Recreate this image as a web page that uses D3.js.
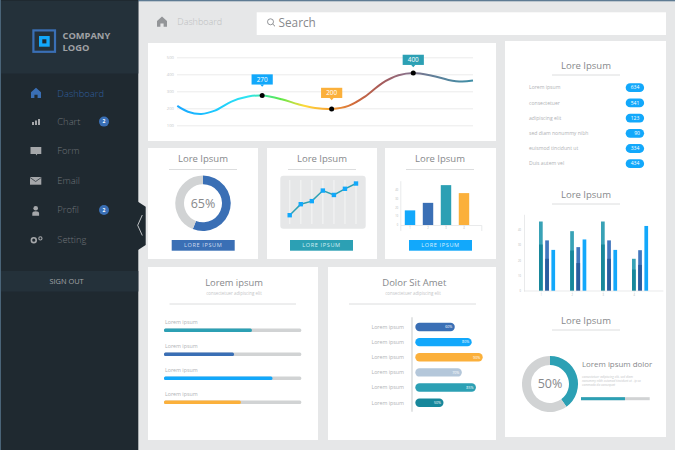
<!DOCTYPE html>
<html><head><meta charset="utf-8">
<script src="https://cdn.jsdelivr.net/npm/d3@7"></script>
<style>
html,body{margin:0;padding:0;background:#e6e7e8;overflow:hidden}
svg{display:block}
text{font-family:"Open Sans",sans-serif}
</style></head><body>
<svg id="c" width="675" height="450"></svg>
<script>
// ---------- data ----------
const menuItems = ["Dashboard","Chart","Form","Email","Profil","Setting"];
const menuBadges = [null,2,null,null,2,null];
const lineXs = [0,3.6,8.1,12.7,18.3,24,28.7,35.3,40.9,46.6,52.2,57.9,63.5,69.2,74.8,79.8,86.1,91.7,96.2,100];
const lineYs = [214,180,167,186,239,269,275,253,224,202,196,214,269,347,394,408,392,367,357,363];
const lineMarkers = [6,10,15];
const lineMarkerLabels = ["270","200","400"];
const lineTicks = [100,200,300,400,500];
const donutALabel = "65%";
const donutAShare = 0.56;
const miniLineValues = [20,45,52,76,66,80,92];
const miniBarValues = [16.5,25,45,36];
const miniBarCats = ["1","2","3","4"];
const miniBarTicks = [0,10,20,30,40];
const progressLabels = ["Lorem ipsum","Lorem ipsum","Lorem ipsum","Lorem ipsum"];
const progressValues = [64,51,79,56];
const hbarLabels = ["Lorem ipsum","Lorem ipsum","Lorem ipsum","Lorem ipsum","Lorem ipsum","Lorem ipsum"];
const hbarValues = [56,80,95.6,66,86,40];
const hbarTexts = ["60%","80%","90%","70%","85%","50%"];
const listLabels = ["Lorem ipsum","consectetuer","adipiscing elit","sed diam nonummy nibh","euismod tincidunt ut","Duis autem vel"];
const listValues = [634,541,123,90,334,434];
const groupCats = ["1","2","3","4"];
const groupTicks = [0,10,20,30,40];
const tealTop = [45.3,39,45.3,21];
const tealLow = [30.3,26.4,30.3,14];
const blueTop = [33,28.6,33,26.6];
const blueLow = [21,18.2,21,17];
const cyanTop = [26.8,33.6,26.8,42.4];
const donutBLabel = "50%";
const donutBShare = 0.40;
const donutBProgress = 64;
const noteLines = ["consectetuer adipiscing elit, sed diam","nonummy nibh euismod tincidunt ut . ip so","commodo do consequat"];

// ---------- palette ----------
const BLUE="#3a6fb5",CYAN="#12a8fb",TEAL="#2ca0b4",ORANGE="#fbb03b",GRAY="#d1d3d4",DTEAL="#17879b",DBLUE="#2a5d9e",PALE="#b4c7da";
const TXT="#87898c",LIGHT="#b0b2b5";

const svg=d3.select("#c");
svg.append("rect").attr("width",675).attr("height",450).attr("fill","#e6e7e8");
function rect(g,x,y,w,h,f,r){return g.append("rect").attr("x",x).attr("y",y).attr("width",w).attr("height",h).attr("fill",f).attr("rx",r||0);}
function text(g,x,y,s,size,fill,anchor,weight,style){
  return g.append("text").attr("x",x).attr("y",y).attr("dy","0.35em").attr("font-size",size).attr("fill",fill)
   .attr("text-anchor",anchor||"start").attr("font-weight",weight||400).attr("font-style",style||"normal").text(s);
}
function hline(g,x1,x2,y,c,w){g.append("line").attr("x1",x1).attr("x2",x2).attr("y1",y).attr("y2",y).attr("stroke",c||"#dcddde").attr("stroke-width",w||1);}
function title(cx,y,ly,s,lw){text(svg,cx,y,s,9.5,TXT,"middle");hline(svg,cx-lw/2,cx+lw/2,ly);}

// ---------- sidebar ----------
rect(svg,0,0,675,1.3,"#5e7b93");
rect(svg,0,0,138.3,450,"#1f2930");
rect(svg,0,0,1,450,"#4a6478");
rect(svg,1,1,137.3,72.5,"#24313a");
rect(svg,1,271,137.3,20.5,"#24313a");
svg.append("path").attr("d","M138 201.7L145.7 206.7V245L138 250Z").attr("fill","#1f2930");
svg.append("path").attr("d","M142.3 215L137.7 225.3L142.3 235.5").attr("fill","none").attr("stroke","#e6e7e8").attr("stroke-width",0.8);
// logo
svg.append("rect").attr("x",33.4).attr("y",30.4).attr("width",21.6).attr("height",21.4).attr("fill","none").attr("stroke",BLUE).attr("stroke-width",2.2);
rect(svg,39,36,10.7,10.7,CYAN);
rect(svg,42.3,39.3,4.1,4.1,"#1f2930");
text(svg,62.5,35.5,"COMPANY",9.3,"#a0a2a5","start",700);
text(svg,62.5,47.5,"LOGO",9.3,"#a0a2a5","start",700);
// menu
const menuYs=[93.3,121.3,150.7,180.3,209.7,239.7];
const iconGray="#a5a7aa";
menuItems.forEach((m,i)=>{
  const y=menuYs[i];
  text(svg,57.3,y,m,9.4,i===0?"#2f5f9e":"#6f7478","start",300);
  if(menuBadges[i]!=null){
    svg.append("circle").attr("cx",104).attr("cy",y+.3).attr("r",5).attr("fill",BLUE);
    text(svg,104,y+.3,menuBadges[i],5,"#fff","middle",700);
  }
});
function homeIcon(cx,cy,s,c){svg.append("path").attr("transform",`translate(${cx},${cy}) scale(${s})`).attr("fill",c)
  .attr("d","M0 -5.2L5 -0.8V5H1.6V1.8H-1.6V5H-5V-0.8Z");}
homeIcon(36,93,1,BLUE);
[[32,3],[35,4.5],[38,6]].forEach(b=>rect(svg,b[0],125-b[1],2,b[1],iconGray));
svg.append("path").attr("d","M30.5 147H41.3V154H37.3L36.5 155.5L35.7 154H30.5Z").attr("fill",iconGray);
rect(svg,30,177,11.3,7.7,iconGray);
svg.append("path").attr("d","M30 177.5L35.65 181.5L41.3 177.5").attr("fill","none").attr("stroke","#1f2930").attr("stroke-width",.7);
svg.append("circle").attr("cx",35.7).attr("cy",208.2).attr("r",2.3).attr("fill",iconGray);
svg.append("path").attr("d","M32.3 215.8V213.3Q32.3 211.2 35.7 211.2T39.1 213.3V215.8Z").attr("fill",iconGray);
svg.append("circle").attr("cx",33.8).attr("cy",240.2).attr("r",2.4).attr("fill","none").attr("stroke",iconGray).attr("stroke-width",1.6);
svg.append("circle").attr("cx",40.4).attr("cy",238.4).attr("r",1.6).attr("fill","none").attr("stroke",iconGray).attr("stroke-width",1.1);
text(svg,66.5,281.6,"SIGN OUT",7.4,"#a2a4a7","middle",400);

// ---------- top bar ----------
homeIcon(162,21.8,1,"#939598");
text(svg,177.3,22.3,"Dashboard",9,"#bcbec0","start",300);
rect(svg,256.7,12.3,409.3,22.7,"#fff");
svg.append("circle").attr("cx",270.5).attr("cy",21.8).attr("r",3).attr("fill","none").attr("stroke",TXT).attr("stroke-width",.9);
svg.append("line").attr("x1",272.7).attr("y1",24).attr("x2",275).attr("y2",26.3).attr("stroke",TXT).attr("stroke-width",1);
text(svg,278.5,22.5,"Search",11.8,TXT);

// ---------- cards ----------
[[148,43,348,98],[148,148,110,111],[267,148,110,111],[385,148,111,111],[148,267,170,173],[328,267,168,173],[505,41,161,396]]
 .forEach(c=>rect(svg,c[0],c[1],c[2],c[3],"#fff"));

// ---------- main line chart ----------
const lx=d3.scaleLinear().domain([0,100]).range([177.3,473]);
const ly=d3.scaleLinear().domain([100,500]).range([125.3,57.3]);
const gy=svg.append("g").attr("transform","translate(177,0)").call(d3.axisLeft(ly).tickValues(lineTicks).tickSize(0).tickPadding(3));
gy.select(".domain").remove();
gy.selectAll("text").attr("font-size",4.2).attr("fill","#c4c6c8").style("font-family","'Open Sans',sans-serif");
gy.selectAll(".tick").append("line").attr("x1",0).attr("x2",296).attr("stroke","#ebebec").attr("stroke-width",1);
const defs=svg.append("defs");
const grad=defs.append("linearGradient").attr("id","lg").attr("gradientUnits","userSpaceOnUse").attr("x1",177).attr("x2",473).attr("y1",0).attr("y2",0);
[[0,"#1aa7ff"],[.126,"#1cc8ff"],[.24,"#2ee5f0"],[.35,"#5ee84a"],[.43,"#ffd93a"],[.52,"#f7a033"],[.6,"#d06a3c"],[.69,"#a65a5a"],[.77,"#8d6f86"],[.87,"#5f7f99"],[1,"#3e8ea6"]]
 .forEach(s=>grad.append("stop").attr("offset",s[0]).attr("stop-color",s[1]));
const lineGen=d3.line().x(d=>lx(d[0])).y(d=>ly(d[1])).curve(d3.curveCatmullRom);
svg.append("path").datum(lineXs.map((x,i)=>[x,lineYs[i]])).attr("d",lineGen).attr("fill","none").attr("stroke","url(#lg)").attr("stroke-width",2);
const tipColors=[CYAN,ORANGE,TEAL], tipGap=[11,11,8];
lineMarkers.forEach((idx,i)=>{
  const x=lx(lineXs[idx]),y=ly(lineYs[idx]);
  svg.append("circle").attr("cx",x).attr("cy",y).attr("r",2.5).attr("fill","#000");
  const b=y-tipGap[i];
  rect(svg,x-10.6,b-10.2,21.2,10.2,tipColors[i]);
  svg.append("path").attr("d",`M${x-2} ${b}L${x} ${b+2.2}L${x+2} ${b}Z`).attr("fill",tipColors[i]);
  text(svg,x,b-5.1,lineMarkerLabels[i],6.4,"#fff","middle",400);
});

// ---------- donuts ----------
function donut(cx,cy,ro,ri,share,col,label,fs){
  const g=svg.append("g").attr("transform",`translate(${cx},${cy})`);
  const arcs=d3.pie().sort(null)([share,1-share]);
  const a=d3.arc().innerRadius(ri).outerRadius(ro);
  g.selectAll("path").data(arcs).join("path").attr("d",a).attr("fill",(d,i)=>i?GRAY:col);
  text(g,0,0,label,fs,TXT,"middle");
}
title(203,159,169.5,"Lore Ipsum",68);
donut(203,203.3,27.7,19,donutAShare,BLUE,donutALabel,12.5);
rect(svg,171.7,240,63,10.7,BLUE);
text(svg,203.2,245.5,"LORE IPSUM",5.6,"#cfdcee","middle").attr("letter-spacing",.6);

// ---------- mini line ----------
title(322,159,169.5,"Lore Ipsum",68);
rect(svg,280.3,175.7,85.4,53,"#e6e7e8",3);
const mx=d3.scalePoint().domain(miniLineValues.map((d,i)=>i)).range([289.7,356]);
const my=d3.scaleLinear().domain([0,100]).range([224,180]);
miniLineValues.forEach((d,i)=>svg.append("line").attr("x1",mx(i)).attr("x2",mx(i)).attr("y1",180).attr("y2",224).attr("stroke","#f1f2f2").attr("stroke-width",1.4));
svg.append("path").datum(miniLineValues).attr("d",d3.line().x((d,i)=>mx(i)).y(d=>my(d))).attr("fill","none").attr("stroke",TEAL).attr("stroke-width",1.5);
svg.selectAll(".ms").data(miniLineValues).join("rect").attr("x",(d,i)=>mx(i)-2.2).attr("y",d=>my(d)-2.2).attr("width",4.4).attr("height",4.4).attr("fill",CYAN);
rect(svg,290,240,63,10.7,TEAL);
text(svg,321.5,245.5,"LORE IPSUM",5.6,"#d3edf1","middle").attr("letter-spacing",.6);

// ---------- mini bars ----------
title(440,159,169.5,"Lore Ipsum",68);
const bx=d3.scaleBand().domain(miniBarCats).range([400.3,473.7]).paddingInner(.42).paddingOuter(.25);
const by=d3.scaleLinear().domain([0,50]).range([225,180.7]);
const bcol=[CYAN,BLUE,TEAL,ORANGE];
svg.selectAll(".mb").data(miniBarValues).join("rect").attr("x",(d,i)=>bx(miniBarCats[i])).attr("y",d=>by(d)).attr("width",bx.bandwidth()).attr("height",d=>225-by(d)).attr("fill",(d,i)=>bcol[i]);
function tinyAxis(g){
  g.select(".domain").attr("stroke","#e0e1e2").attr("stroke-width",.7);
  g.selectAll("line").attr("stroke","#d8d9da").attr("stroke-width",.5);
  g.selectAll("text").attr("font-size",2.6).attr("fill","#b5b7b9").style("font-family","'Open Sans',sans-serif");
}
svg.append("g").attr("transform","translate(400.3,0)").call(d3.axisLeft(by).tickValues(miniBarTicks).tickSize(0).tickPadding(2).tickSizeOuter(0)).call(tinyAxis);
svg.append("g").attr("transform","translate(0,225)").call(d3.axisBottom(d3.scaleLinear().domain([0,1]).range([400.3,481.3])).tickValues([])).call(tinyAxis);
svg.append("g").attr("transform","translate(0,225)").call(d3.axisBottom(bx).tickSize(1.5).tickSizeOuter(0).tickPadding(1)).call(g=>g.select(".domain").remove()).call(tinyAxis);
rect(svg,409,240,63,10.7,CYAN);
text(svg,440.5,245.5,"LORE IPSUM",5.6,"#d9efff","middle").attr("letter-spacing",.6);

// ---------- progress card ----------
text(svg,234,282.7,"Lorem ipsum",9.4,TXT,"middle");
text(svg,234,293.3,"consectetuer adipiscing elit",4.4,"#c4c6c8","middle");
hline(svg,169.5,296,304);
const px=d3.scaleLinear().domain([0,100]).range([164,301.3]);
const pcol=[TEAL,BLUE,CYAN,ORANGE];
progressLabels.forEach((l,i)=>{
  const y=330.3+24*i;
  text(svg,165,y-8.3,l,5.3,LIGHT);
  rect(svg,px(0),y-1.8,px(100)-px(0),3.6,GRAY,1.5);
  rect(svg,px(0),y-1.8,px(progressValues[i])-px(0),3.6,pcol[i],1.5);
});

// ---------- horizontal bars ----------
text(svg,414.3,282.7,"Dolor Sit Amet",9.5,TXT,"middle");
text(svg,413,293.3,"consectetuer adipiscing elit",4.4,"#c4c6c8","middle");
hline(svg,349,476,304);
const hx=d3.scaleLinear().domain([0,100]).range([415.3,485.8]);
const hy=d3.scalePoint().domain(d3.range(hbarValues.length)).range([327,402.7]);
svg.append("line").attr("x1",412).attr("x2",412).attr("y1",317.3).attr("y2",411.7).attr("stroke",GRAY).attr("stroke-width",1.2);
const hcol=[BLUE,CYAN,ORANGE,PALE,TEAL,DTEAL];
hbarValues.forEach((v,i)=>{
  rect(svg,hx(0),hy(i)-4.2,hx(v)-hx(0),8.4,hcol[i],4.2);
  text(svg,404,hy(i),hbarLabels[i],5.3,LIGHT,"end");
  text(svg,hx(v)-2.5,hy(i),hbarTexts[i],3.6,"#fff","end",400);
});

// ---------- right list ----------
title(586,65.7,75,"Lore Ipsum",68);
const ly2=d3.scalePoint().domain(d3.range(listValues.length)).range([87.7,163.7]);
listLabels.forEach((l,i)=>{
  text(svg,529,ly2(i),l,5.1,LIGHT);
  rect(svg,625.7,ly2(i)-4.4,18.4,8.8,CYAN,4.4);
  text(svg,i===3?637:635,ly2(i),listValues[i],5,"#fff","middle",400);
});

// ---------- grouped bars ----------
title(586,194.3,204,"Lore Ipsum",68);
const gyS=d3.scaleLinear().domain([0,50]).range([291,214.3]);
const gx0=[539,570.2,601,632];
const bw=3.7, off=[0,6.2,12.4];
groupCats.forEach((c,i)=>{
  const base=gx0[i];
  const draw=(o,top,col)=>rect(svg,base+off[o],gyS(top),bw,291-gyS(top),col);
  draw(0,tealTop[i],"#38a2b6");draw(0,tealLow[i],DTEAL);
  draw(1,blueTop[i],"#4277bd");draw(1,blueLow[i],DBLUE);
  draw(2,cyanTop[i],CYAN);
});
const ag=svg.append("g").attr("transform","translate(524,0)").call(d3.axisLeft(gyS).tickValues(groupTicks).tickSize(0).tickPadding(3).tickSizeOuter(0)).call(tinyAxis);
const axX=d3.scalePoint().domain(groupCats).range([540.8,633.8]);
svg.append("g").attr("transform","translate(0,291)").call(d3.axisBottom(axX).tickSize(1.5).tickPadding(2).tickSizeOuter(0)).call(g=>g.select(".domain").remove()).call(tinyAxis);
hline(svg,524,663.3,291,"#e0e1e2",.7);

// ---------- bottom right donut ----------
title(586,320.3,330,"Lore Ipsum",68);
donut(550,384,28,19,donutBShare,TEAL,donutBLabel,12.5);
text(svg,582,364,"Lorem ipsum dolor",7.9,TXT);
noteLines.forEach((t,i)=>text(svg,582,377+4.15*i,t,3.1,"#c4c6c8","start",400,"italic"));
const dp=d3.scaleLinear().domain([0,100]).range([581,649.7]);
rect(svg,dp(0),397.2,dp(100)-dp(0),3,GRAY);
rect(svg,dp(0),397.2,dp(donutBProgress)-dp(0),3,TEAL);
</script>
</body></html>
